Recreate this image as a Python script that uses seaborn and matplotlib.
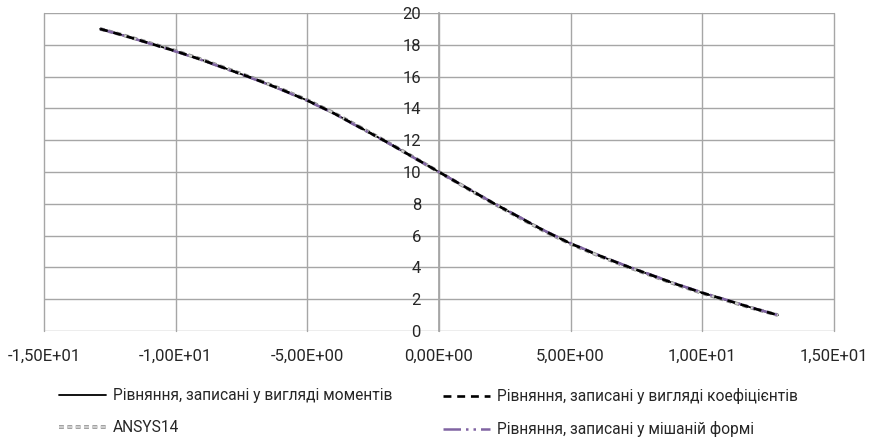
import matplotlib
matplotlib.use("Agg")
import matplotlib.pyplot as plt
import matplotlib.patheffects as pe
import seaborn as sns
import pandas as pd
from matplotlib.ticker import FuncFormatter, MultipleLocator

# x-coordinate along the part
x_vals = [-12.87, -12, -11, -10, -9, -8, -7, -6, -5, -4, -3, -2, -1, 0,
          1, 2, 3, 4, 5, 6, 7, 8, 9, 10, 11, 12, 12.87]

y_moments = [19.0, 18.6, 18.1, 17.6, 17.05, 16.45, 15.85, 15.2, 14.5, 13.7, 12.8, 11.9, 10.95, 10.0,
             9.05, 8.1, 7.2, 6.3, 5.5, 4.8, 4.15, 3.55, 2.95, 2.4, 1.9, 1.4, 1.0]
y_coef = [19.0, 18.6, 18.1, 17.6, 17.05, 16.45, 15.85, 15.2, 14.5, 13.7, 12.8, 11.9, 10.95, 10.0,
          9.05, 8.1, 7.2, 6.3, 5.5, 4.8, 4.15, 3.55, 2.95, 2.4, 1.9, 1.4, 1.0]
y_ansys = [19.0, 18.61, 18.12, 17.62, 17.07, 16.47, 15.87, 15.22, 14.52, 13.72, 12.82, 11.91, 10.96, 10.0,
           9.04, 8.09, 7.18, 6.28, 5.48, 4.78, 4.13, 3.53, 2.93, 2.38, 1.88, 1.39, 1.0]
y_mixed = [19.0, 18.59, 18.09, 17.58, 17.03, 16.43, 15.83, 15.18, 14.48, 13.68, 12.78, 11.89, 10.94, 10.0,
           9.06, 8.11, 7.22, 6.32, 5.52, 4.82, 4.17, 3.57, 2.97, 2.42, 1.92, 1.41, 1.0]

labels = ["Рівняння, записані у вигляді моментів",
          "Рівняння, записані у вигляді коефіцієнтів",
          "ANSYS14",
          "Рівняння, записані у мішаній формі"]

df = pd.DataFrame({"x": x_vals, "moments": y_moments, "coef": y_coef,
                   "ansys": y_ansys, "mixed": y_mixed})

sns.set_theme(style="white")
plt.rcParams["font.family"] = ["Roboto", "DejaVu Sans"]
txt = "#262626"
grid_c = "#a6a6a6"

fig = plt.figure(figsize=(8.77, 4.42), dpi=100)
ax = fig.add_axes([44 / 877, 1 - 331 / 442, (834 - 44) / 877, (331 - 13) / 442])

sns.lineplot(data=df, x="x", y="moments", ax=ax, color="black", lw=1.3, label=labels[0])
sns.lineplot(data=df, x="x", y="ansys", ax=ax, color="#d0d0d0", lw=1.4, label=labels[2])
sns.lineplot(data=df, x="x", y="mixed", ax=ax, color="#8064a2", lw=1.8, label=labels[3])
sns.lineplot(data=df, x="x", y="coef", ax=ax, color="black", lw=1.9, label=labels[1])
lines = ax.get_lines()
lines[1].set_dashes([2.5, 1.8])
lines[1].set_path_effects([pe.Stroke(linewidth=2.6, foreground="#8c8c8c"), pe.Normal()])
lines[2].set_dashes([7, 2, 1, 2, 1, 2])
lines[3].set_dashes([3, 2.2])

ax.set_xlim(-15, 15)
ax.set_ylim(0, 20)
ax.xaxis.set_major_locator(MultipleLocator(5))
ax.yaxis.set_major_locator(MultipleLocator(2))
ax.xaxis.set_major_formatter(FuncFormatter(lambda v, p: f"{v:.2E}".replace(".", ",")))
ax.grid(True, color=grid_c, lw=1.0)
for gl in ax.get_xgridlines() + ax.get_ygridlines():
    gl.set_clip_on(False)
ax.set_xlabel("")
ax.set_ylabel("")

for s in ["top", "right", "bottom"]:
    ax.spines[s].set_visible(False)
ax.spines["left"].set_position(("data", 0))
ax.spines["left"].set_color(grid_c)
ax.spines["left"].set_zorder(0)

ax.tick_params(axis="x", length=0, pad=13, labelsize=12, labelcolor=txt)
ax.tick_params(axis="y", length=0, pad=13, labelsize=12, labelcolor=txt)

ax.get_legend().remove()
handles, labs = ax.get_legend_handles_labels()
leg_kw = dict(loc="upper left", frameon=False, fontsize=11.2, handlelength=3.0,
              handletextpad=0.45, borderpad=0, borderaxespad=0, labelspacing=1.1,
              labelcolor=txt)
col1 = [labs.index(labels[0]), labs.index(labels[2])]
col2 = [labs.index(labels[1]), labs.index(labels[3])]
fig.legend([handles[i] for i in col1], [labs[i] for i in col1],
           bbox_to_anchor=(59 / 877, 1 - 388 / 442), **leg_kw)
fig.legend([handles[i] for i in col2], [labs[i] for i in col2],
           bbox_to_anchor=(443 / 877, 1 - 388 / 442), **leg_kw)

fig.savefig("out.png", dpi=100)
